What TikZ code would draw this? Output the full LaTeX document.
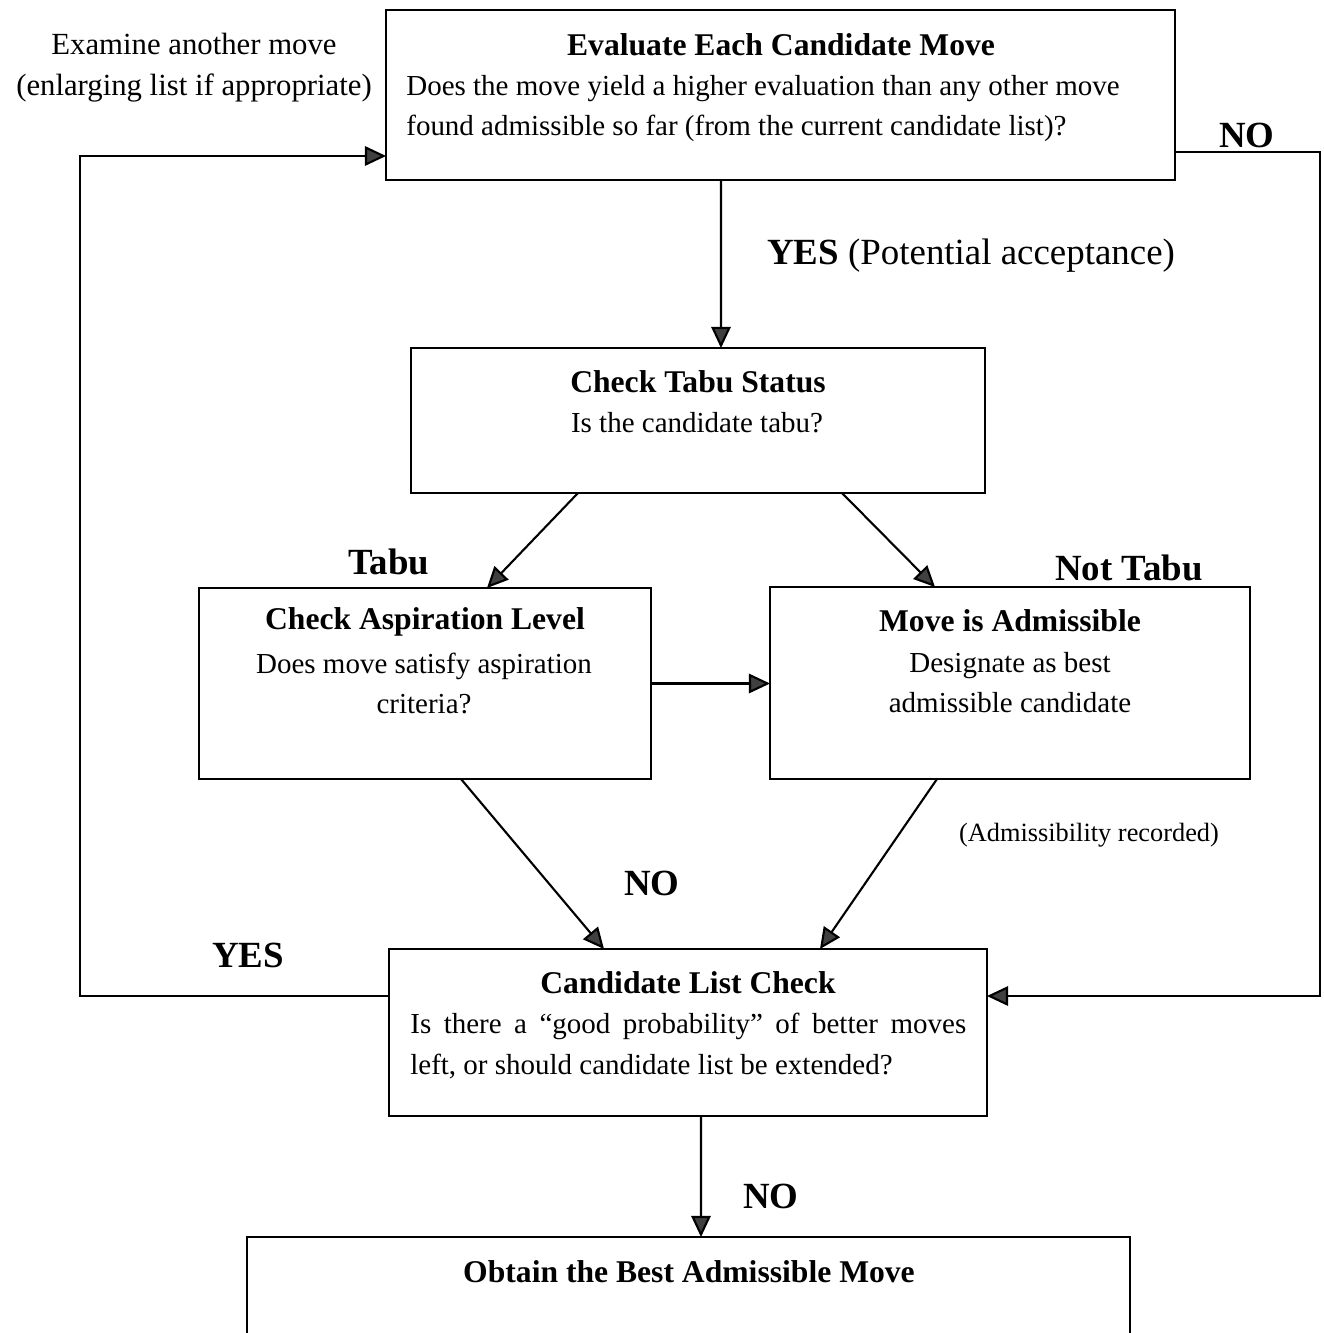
\documentclass[tikz,border=0pt]{standalone}
\usepackage{fontspec}
\setmainfont{Liberation Serif}
\usetikzlibrary{arrows.meta}

\begin{document}
\begin{tikzpicture}[x=0.02cm, y=-0.02cm,
  box/.style={draw, line width=1.2pt, rectangle, inner sep=0pt, outer sep=0pt},
  ttl/.style={inner sep=0pt, font=\fontsize{18}{23.2}\selectfont\bfseries, align=center},
  body/.style={inner sep=0pt, font=\fontsize{16.5}{23.2}\selectfont, align=center},
  lbl/.style={inner sep=0pt, font=\fontsize{21}{25}\selectfont\bfseries},
  conn/.style={line width=1.2pt},
  arr/.style={conn, -{Triangle[length=12pt, width=11pt, fill=black!75]}}]

\useasboundingbox (0,0) rectangle (1323,1333);
\clip (0,0) rectangle (1323,1333);

% boxes
\node[box, minimum width=15.78cm, minimum height=3.40cm] (eval) at (780.5,95) {};
\node[box, minimum width=11.48cm, minimum height=2.90cm] (tabu) at (698,420.5) {};
\node[box, minimum width=9.04cm,  minimum height=3.82cm] (asp)  at (425,683.5) {};
\node[box, minimum width=9.60cm,  minimum height=3.84cm] (adm)  at (1010,683) {};
\node[box, minimum width=11.96cm, minimum height=3.34cm] (cand) at (688,1032.5) {};
\node[box, minimum width=17.66cm, minimum height=3.26cm] (best) at (688.5,1318.5) {};

% box texts
\node[ttl] (evalTitle) at (781,45) {Evaluate Each Candidate Move};
\node[body, align=left, anchor=west] (evalBody) at (406,108.5)
  {Does the move yield a higher evaluation than any other move\\found admissible so far (from the current candidate list)?};
\node[ttl] (tabuTitle) at (698,382) {Check Tabu Status};
\node[body] (tabuBody) at (697,423) {Is the candidate tabu?};
\node[ttl] (aspTitle) at (425,622) {Check Aspiration Level};
\node[body] (aspBody) at (424,683.5) {Does move satisfy aspiration\\criteria?};
\node[ttl] (admTitle) at (1010,621) {Move is Admissible};
\node[body] (admBody) at (1010,682.5) {Designate as best\\admissible candidate};
\node[ttl] (candTitle) at (688,983) {Candidate List Check};
\node[body, align=justify, text width=11.12cm, anchor=west] (candBody) at (410,1046)
  {Is there a “good probability” of better moves\linebreak left, or should candidate list be extended?};
\node[ttl] (bestTitle) at (689,1272) {Obtain the Best Admissible Move};

% free labels
\node[body, font=\fontsize{17.5}{23.2}\selectfont] (examine) at (194,68)
  {Examine another move\\(enlarging list if appropriate)};
\node[lbl] (noEval) at (1247,135) {NO};
\node[lbl] (yesPot) at (971,256) {YES \mdseries(Potential acceptance)};
\node[lbl] (tabuLbl) at (389,562) {Tabu};
\node[lbl] (notTabuLbl) at (1129,568) {Not Tabu};
\node[body, font=\fontsize{15}{18}\selectfont] (admRec) at (1089,835) {(Admissibility recorded)};
\node[lbl] (noAsp) at (652,883) {NO};
\node[lbl] (yesCand) at (248,955) {YES};
\node[lbl] (noCand) at (771,1196) {NO};

% routing points of the loops
\coordinate (L) at (80,500);
\coordinate (R) at (1320,500);

% connectors
\draw[arr] ([xshift=-1.19cm]eval.south) -- ([xshift=0.46cm]tabu.north);
\draw[arr] ([xshift=-2.40cm]tabu.south) -- ([xshift=1.24cm]asp.north);
\draw[arr] ([xshift=2.88cm]tabu.south) -- ([xshift=-1.50cm]adm.north);
\draw[arr] (asp.east) -- (asp.east -| adm.west);
\draw[arr] ([xshift=0.72cm]asp.south) -- ([xshift=-1.68cm]cand.north);
\draw[arr] ([xshift=-1.46cm]adm.south) -- ([xshift=2.64cm]cand.north);
\draw[arr] ([yshift=0.73cm]cand.west) -| (L) |- ([yshift=-1.22cm]eval.west);
\draw[arr] ([yshift=-1.14cm]eval.east) -| (R) |- ([yshift=0.73cm]cand.east);
\draw[arr] ([xshift=0.26cm]cand.south) -- ([xshift=0.25cm]best.north);

\end{tikzpicture}
\end{document}
